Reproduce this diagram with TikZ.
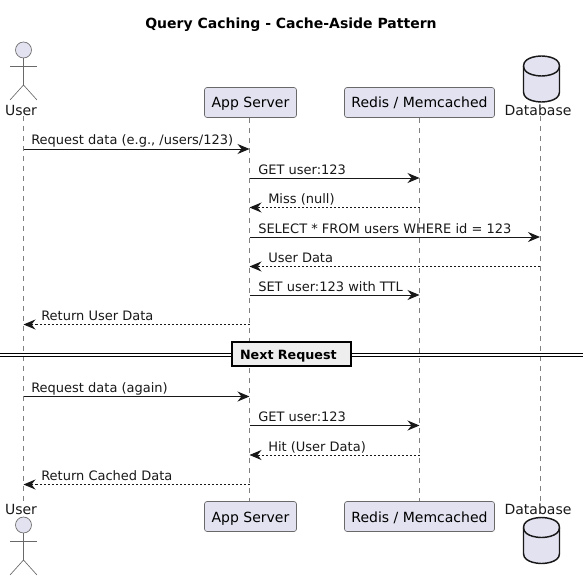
\documentclass[tikz,border=0pt]{standalone}
\usepackage{xcolor}
\usepackage{fontspec}
\setmainfont{DejaVu Sans}
\usetikzlibrary{arrows.meta,positioning,calc}
\definecolor{partfill}{RGB}{226,226,240}
\definecolor{ink}{RGB}{24,24,24}
\definecolor{divfill}{RGB}{238,238,238}
\newcommand{\actorfig}[2]{%
  \draw[figline, fill=partfill] (#1,#2) circle (8);
  \draw[figline] (#1,#2+8) -- ++(0,27) -- ++(-13.5,15) ++(13.5,-15) -- ++(13.5,15);
  \draw[figline] (#1-13.5,#2+16) -- ++(27,0);
}
\newcommand{\cylfig}[2]{%
  \draw[cylline, fill=partfill] (#1,#2+10) .. controls (#1,#2) and (#1+18,#2) .. (#1+18,#2) .. controls (#1+18,#2) and (#1+36,#2) .. (#1+36,#2+10) -- (#1+36,#2+36) .. controls (#1+36,#2+46) and (#1+18,#2+46) .. (#1+18,#2+46) .. controls (#1+18,#2+46) and (#1,#2+46) .. (#1,#2+36) -- cycle;
  \draw[cylline] (#1,#2+10) .. controls (#1,#2+20) and (#1+18,#2+20) .. (#1+18,#2+20) .. controls (#1+18,#2+20) and (#1+36,#2+20) .. (#1+36,#2+10);
}

\begin{document}
\begin{tikzpicture}[
  x=0.75pt, y=-0.75pt,
  part/.style={draw=ink!65, line width=0.5pt, rounded corners=1.9pt, fill=partfill, font=\fontsize{10.5pt}{12pt}\selectfont, minimum height=22.5pt, text height=9.5pt, text depth=1.25pt, inner xsep=0pt},
  partname/.style={font=\fontsize{10.5pt}{12pt}\selectfont, text=ink, inner sep=0pt, anchor=base},
  txt/.style={font=\fontsize{9.75pt}{12pt}\selectfont, text=ink, inner sep=0pt, anchor=base west},
  figline/.style={draw=ink!65, line width=0.5pt},
  cylline/.style={draw=ink, line width=1.1pt},
  life/.style={draw=ink!55, line width=0.5pt, dash pattern=on 3.75pt off 3.75pt},
  msg/.style={-{Stealth[length=9pt, width=7.5pt, inset=3pt]}, draw=ink, line width=0.75pt},
  ret/.style={-{Stealth[length=9pt, width=7.5pt, inset=3pt]}, draw=ink, line width=0.75pt, dash pattern=on 1.5pt off 1.5pt},
  sep/.style={draw=black, line width=0.75pt, double, double distance=1.25pt},
]
\useasboundingbox (0,0) rectangle (588,581);

\node[font=\fontsize{10.5pt}{12pt}\selectfont\bfseries, inner sep=0pt, anchor=base] (title) at (291,29) {Query Caching - Cache-Aside Pattern};

% lifeline positions
\coordinate (userx) at (23.5,0);
\coordinate (appx) at (249.5,0);
\coordinate (redisx) at (419.5,0);
\coordinate (dbx) at (540,0);

% participants
\actorfig{23.5}{50}
\node[partname] (usertop) at (21,115.5) {User};
\node[part, minimum width=69pt] (apptop) at (250.5,102.5) {App Server};
\node[part, minimum width=112.5pt] (redistop) at (419.5,102.5) {Redis / Memcached};
\cylfig{523.5}{56}
\node[partname] (dbtop) at (538,115.5) {Database};

\actorfig{23.5}{525}
\node[partname] (userbot) at (21,514) {User};
\node[part, minimum width=69pt] (appbot) at (250.5,516.5) {App Server};
\node[part, minimum width=112.5pt] (redisbot) at (419.5,516.5) {Redis / Memcached};
\cylfig{523.5}{517.5}
\node[partname] (dbbot) at (538,514) {Database};

\draw[life] (usertop.south -| userx) -- (userbot.north -| userx);
\draw[life] (apptop.south -| appx) -- (appbot.north -| appx);
\draw[life] (redistop.south -| redisx) -- (redisbot.north -| redisx);
\draw[life] (dbtop.south -| dbx) -- (dbbot.north -| dbx);

% messages
\draw[msg] (userx |- 0,149) -- (appx |- 0,149);
\node[txt] (m1) at (31,145) {Request data (e.g., /users/123)};
\draw[msg] (appx |- 0,178) -- (redisx |- 0,178);
\node[txt] (m2) at (258,174) {GET user:123};
\draw[ret] (redisx |- 0,207.5) -- (appx |- 0,207.5);
\node[txt] (m3) at (268,203.5) {Miss (null)};
\draw[msg] (appx |- 0,237) -- (dbx |- 0,237);
\node[txt] (m4) at (258,233) {SELECT * FROM users WHERE id = 123};
\draw[ret] (dbx |- 0,266.5) -- (appx |- 0,266.5);
\node[txt] (m5) at (268,262.5) {User Data};
\draw[msg] (appx |- 0,295) -- (redisx |- 0,295);
\node[txt] (m6) at (258,291) {SET user:123 with TTL};
\draw[ret] (appx |- 0,324.5) -- (userx |- 0,324.5);
\node[txt] (m7) at (41,320) {Return User Data};

% divider
\node[draw=black, line width=1.5pt, fill=divfill, font=\fontsize{9.55pt}{12pt}\selectfont\bfseries, text width=77.25pt, align=left, inner xsep=6pt, minimum height=17.5pt, inner ysep=0pt, text height=8.5pt, text depth=1pt] (nextreq) at (291.5,354) {Next Request};
\coordinate (divl) at (0,354.7);
\coordinate (divr) at (583,354.7);
\draw[sep] (divl) -- (nextreq.west |- divl);
\draw[sep] (nextreq.east |- divr) -- (divr);

\draw[msg] (userx |- 0,396.5) -- (appx |- 0,396.5);
\node[txt] (m8) at (31,392.5) {Request data (again)};
\draw[msg] (appx |- 0,425.5) -- (redisx |- 0,425.5);
\node[txt] (m9) at (258,421.5) {GET user:123};
\draw[ret] (redisx |- 0,455) -- (appx |- 0,455);
\node[txt] (m10) at (268,451) {Hit (User Data)};
\draw[ret] (appx |- 0,484.5) -- (userx |- 0,484.5);
\node[txt] (m11) at (41,480) {Return Cached Data};

\end{tikzpicture}
\end{document}
